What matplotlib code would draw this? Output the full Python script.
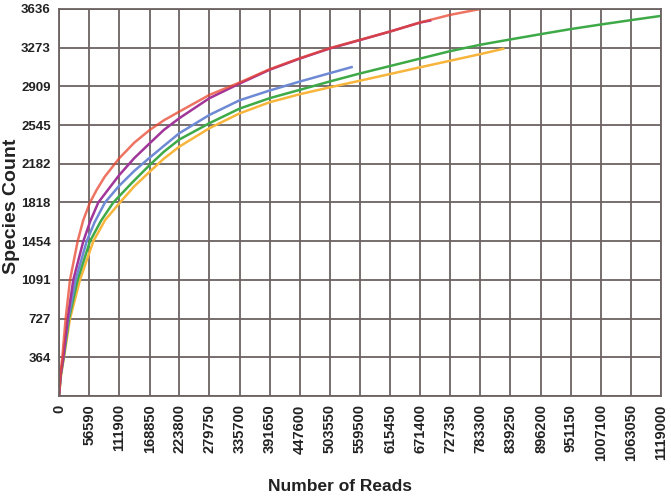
import matplotlib.pyplot as plt

# rarefaction curves
red_x = [0, 2500, 6200, 12400, 20500, 34700, 45000, 57600, 70000, 85000, 111900, 140000,
         168850, 195000, 223800, 279750, 335700, 391650, 447600, 503550, 559500,
         615450, 671400, 727350, 783300]
red_y = [0, 200, 364, 727, 1091, 1454, 1650, 1818, 1936, 2060, 2233, 2380,
         2500, 2590, 2672, 2829, 2945, 3070, 3173, 3268, 3346,
         3424, 3509, 3581, 3636]

purple_x = [0, 3000, 8100, 16100, 26600, 45200, 58000, 73100, 90000, 111900, 140000,
            168850, 195000, 223800, 279750, 335700, 391650, 447600, 503550, 559500,
            615450, 671400, 690000]
purple_y = [0, 200, 364, 727, 1091, 1454, 1640, 1818, 1930, 2075, 2235,
            2375, 2500, 2610, 2798, 2935, 3065, 3170, 3265, 3344,
            3424, 3509, 3527]

blue_x = [0, 3000, 8100, 17300, 31000, 51500, 66000, 85500, 111900, 140000, 168850,
          195000, 223800, 279750, 335700, 391650, 447600, 503550, 544000]
blue_y = [0, 200, 364, 727, 1091, 1454, 1630, 1818, 1975, 2115, 2240,
          2350, 2469, 2641, 2778, 2870, 2954, 3033, 3090]

green_x = [0, 3500, 8700, 18600, 34700, 57600, 78000, 101000, 135000, 168850, 195000,
           223800, 279750, 335700, 391650, 447600, 503550, 559500, 615450, 671400,
           727350, 783300, 839250, 896200, 951150, 1007100, 1063050, 1119000]
green_y = [0, 200, 364, 727, 1091, 1454, 1645, 1818, 2000, 2171, 2295,
           2410, 2563, 2700, 2798, 2876, 2955, 3030, 3100, 3170,
           3240, 3300, 3350, 3400, 3447, 3490, 3531, 3571]

yellow_x = [0, 4000, 9300, 20500, 39000, 63800, 86000, 113400, 140000, 168850, 195000,
            223800, 279750, 335700, 391650, 447600, 503550, 559500, 615450, 671400,
            727350, 783300, 826000]
yellow_y = [0, 200, 364, 727, 1091, 1454, 1655, 1818, 1970, 2108, 2230,
            2343, 2516, 2655, 2760, 2835, 2900, 2962, 3025, 3088,
            3150, 3212, 3262]

x_ticks = [0, 56590, 111900, 168850, 223800, 279750, 335700, 391650, 447600, 503550,
           559500, 615450, 671400, 727350, 783300, 839250, 896200, 951150, 1007100,
           1063050, 1119000]
y_ticks = [0, 364, 727, 1091, 1454, 1818, 2182, 2545, 2909, 3273, 3636]

font = ['Liberation Sans', 'DejaVu Sans']

fig = plt.figure(figsize=(6.71, 4.99), dpi=100)
ax = fig.add_axes([0.0879, 0.2064, 0.897, 0.7756])

ax.plot(yellow_x, yellow_y, color='#F7B53C', lw=1.8)
ax.plot(green_x, green_y, color='#3EAA47', lw=1.8)
ax.plot(blue_x, blue_y, color='#6F8AD4', lw=1.8)
ax.plot(purple_x, purple_y, color='#A1359A', lw=1.8)
ax.plot(red_x, red_y, color='#E8452F', lw=1.8, alpha=0.75)

ax.set_xlim(0, 1119000)
ax.set_ylim(0, 3636)
ax.set_xticks(x_ticks)
ax.set_xticklabels([str(v) for v in x_ticks], rotation=90, fontsize=10.5,
                   fontweight='bold', family=font, color='#222222')
ax.set_yticks(y_ticks)
ax.set_yticklabels([''] + [str(v) for v in y_ticks[1:]], fontsize=9.5,
                   fontweight='bold', family=font, color='#222222')
ax.tick_params(length=0, pad=6)
ax.grid(color='#6c6262', lw=1.3)
for s in ax.spines.values():
    s.set_color('#6c6262')
    s.set_linewidth(1.3)

ax.set_xlabel('Number of Reads', fontsize=12.5, fontweight='bold', family=font,
              color='#222222')
ax.xaxis.set_label_coords(0.467, -0.214)
ax.set_ylabel('Species Count', fontsize=14, fontweight='bold', family=font,
              color='#222222')
ax.yaxis.set_label_coords(-0.064, 0.49)

fig.savefig('out.png', dpi=100)
